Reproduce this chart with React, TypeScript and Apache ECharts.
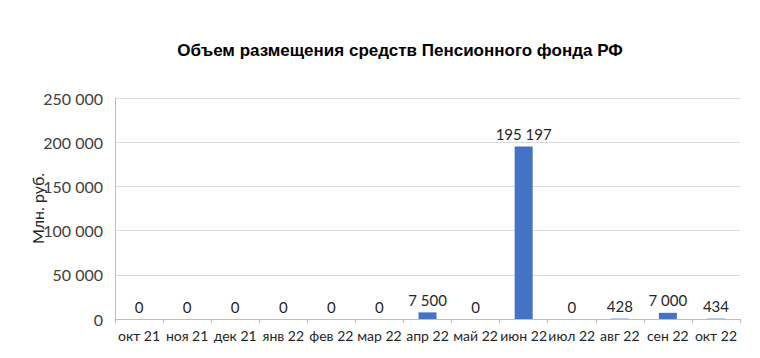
import React, { useEffect, useRef } from "react";
import * as echarts from "echarts";

const categories = ["окт 21", "ноя 21", "дек 21", "янв 22", "фев 22", "мар 22", "апр 22", "май 22", "июн 22", "июл 22", "авг 22", "сен 22", "окт 22"];
const values = [0, 0, 0, 0, 0, 0, 7500, 0, 195197, 0, 428, 7000, 434];
const yTicks = { min: 0, max: 250000, interval: 50000 };
const titleText = "Объем размещения средств Пенсионного фонда РФ";
const yName = "Млн. руб.";

const fmt = (v: number) => String(Math.round(v)).replace(/\B(?=(\d{3})+(?!\d))/g, " ");
const FONT = "Lato, 'Open Sans', sans-serif";

export default function App() {
  const ref = useRef<HTMLDivElement>(null);
  useEffect(() => {
    const chart = echarts.init(ref.current!, null, { renderer: "svg" });
    chart.setOption({
      animation: false,
      backgroundColor: "#ffffff",
      title: {
        text: titleText,
        left: 395,
        top: 37,
        textAlign: "center",
        textStyle: { fontFamily: "'Liberation Sans', Arial, sans-serif", fontSize: 17, fontWeight: "bold", color: "#000" },
      },
      grid: { left: 115, right: 20, top: 98, bottom: 39, containLabel: false },
      xAxis: {
        type: "category",
        data: categories,
        axisLine: { lineStyle: { color: "#bfbfbf", width: 1 } },
        axisTick: { show: true, alignWithLabel: false, length: 4, lineStyle: { color: "#bfbfbf" } },
        axisLabel: { fontFamily: FONT, fontSize: 14, color: "#262626", margin: 9, interval: 0 },
      },
      yAxis: {
        type: "value",
        min: yTicks.min,
        max: yTicks.max,
        interval: yTicks.interval,
        name: yName,
        nameLocation: "middle",
        nameGap: 70,
        nameMoveOverlap: false,
        nameRotate: 90,
        nameTextStyle: { fontFamily: FONT, fontSize: 16, color: "#262626" },
        axisLine: { show: true, lineStyle: { color: "#bfbfbf" } },
        axisTick: { show: false },
        splitLine: { lineStyle: { color: "#d9d9d9" } },
        axisLabel: { fontFamily: FONT, fontSize: 16, color: "#404040", margin: 12, formatter: (v: number) => fmt(v) },
      },
      series: [
        {
          type: "bar",
          data: values,
          barWidth: 18,
          itemStyle: { color: "#4472C4" },
          label: {
            show: true,
            position: "top",
            distance: 5,
            fontFamily: FONT,
            fontSize: 15,
            color: "#262626",
            formatter: (p: any) => fmt(p.value),
          },
        },
      ],
    });
    return () => chart.dispose();
  }, []);
  return <div ref={ref} style={{ width: 760, height: 358, position: "absolute", left: 0, top: 0 }} />;
}
